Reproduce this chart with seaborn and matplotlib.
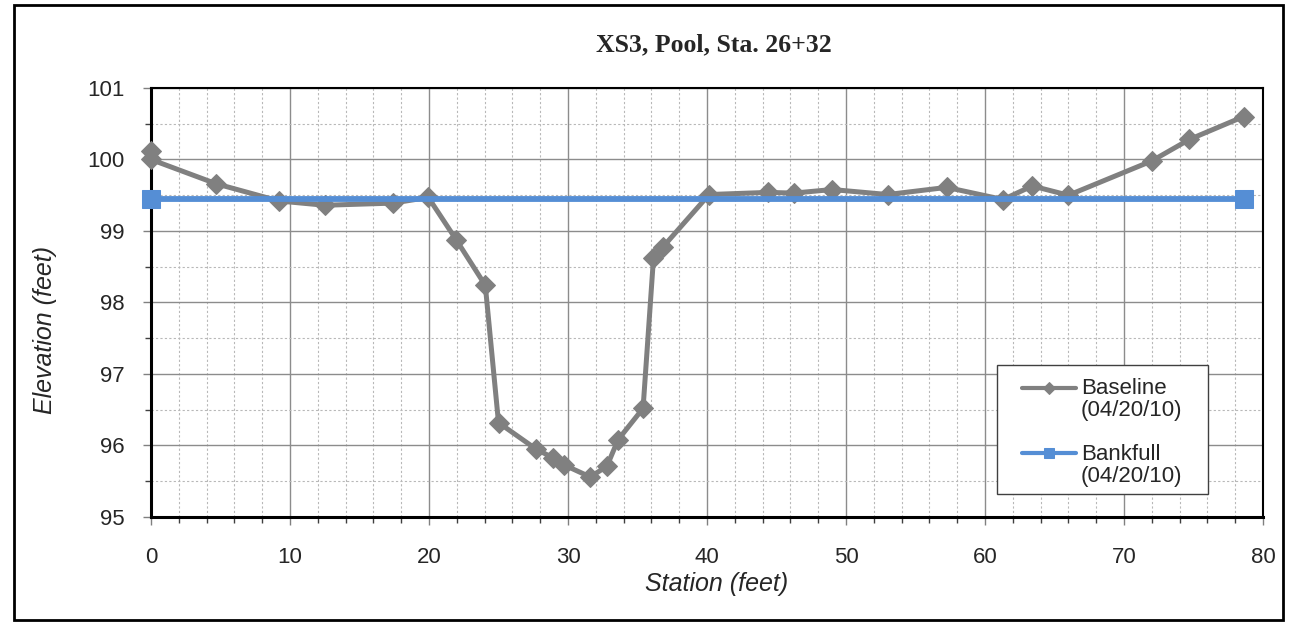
import matplotlib
matplotlib.use("Agg")
import matplotlib.pyplot as plt
from matplotlib.lines import Line2D
from matplotlib.legend_handler import HandlerLine2D
from matplotlib.patches import Rectangle
from matplotlib.ticker import MultipleLocator
import numpy as np
import pandas as pd
import seaborn as sns

# Surveyed cross-section (station, elevation) in feet
baseline_station = [0.0, 0.0, 4.7, 9.2, 12.5, 17.4, 19.95, 21.95, 24.05, 25.0,
                    27.7, 28.9, 29.7, 31.6, 32.8, 33.6, 35.4, 36.15, 36.8,
                    40.15, 44.4, 46.25, 49.0, 53.0, 57.25, 61.3, 63.4, 66.0,
                    72.0, 74.7, 78.6]
baseline_elev = [100.12, 100.0, 99.66, 99.42, 99.36, 99.39, 99.47, 98.88, 98.24, 96.32,
                 95.95, 95.83, 95.73, 95.56, 95.71, 96.08, 96.52, 98.62, 98.77,
                 99.51, 99.54, 99.53, 99.58, 99.51, 99.61, 99.44, 99.63, 99.5,
                 99.98, 100.28, 100.6]

bankfull_station = [0.0, 78.6]
bankfull_elev = [99.45, 99.45]

baseline_label = "Baseline\n(04/20/10)"
bankfull_label = "Bankfull\n(04/20/10)"
title = "XS3, Pool, Sta. 26+32"
x_ticks = [0, 10, 20, 30, 40, 50, 60, 70, 80]
y_ticks = [95, 96, 97, 98, 99, 100, 101]


class FirstLineHandler(HandlerLine2D):
    """Legend line aligned with the first line of a two-line label."""

    def create_artists(self, legend, orig_handle, xdescent, ydescent,
                       width, height, fontsize, trans):
        artists = super().create_artists(legend, orig_handle, xdescent, ydescent,
                                         width, height, fontsize, trans)
        for artist in artists:
            artist.set_ydata(np.asarray(artist.get_ydata()) + 0.54 * fontsize)
        return artists


sns.set_style("white")
plt.rcParams["font.family"] = ["Liberation Sans", "DejaVu Sans"]

W, H = 1296, 624
AX_L, AX_R, AX_T, AX_B = 151, 1263, 88, 517
AW, AH = AX_R - AX_L, AX_B - AX_T

fig = plt.figure(figsize=(W / 100, H / 100), dpi=100)
ax = fig.add_axes([AX_L / W, 1 - AX_B / H, AW / W, AH / H])

base_df = pd.DataFrame({"station": baseline_station, "elev": baseline_elev})
bank_df = pd.DataFrame({"station": bankfull_station, "elev": bankfull_elev})

sns.lineplot(data=base_df, x="station", y="elev", ax=ax, sort=False, estimator=None,
             color="#808080", linewidth=3.6, marker="D", markersize=10.5,
             markeredgecolor="#808080", label=baseline_label, zorder=3, clip_on=False)
sns.lineplot(data=bank_df, x="station", y="elev", ax=ax, sort=False, estimator=None,
             color="#558ED5", linewidth=4.2, marker="s", markersize=13.5,
             markeredgecolor="#558ED5", label=bankfull_label, zorder=4, clip_on=False)

ax.set_xlim(0, 80)
ax.set_ylim(95, 101)
ax.set_xticks(x_ticks)
ax.set_yticks(y_ticks)
ax.xaxis.set_minor_locator(MultipleLocator(2))
ax.yaxis.set_minor_locator(MultipleLocator(0.5))
ax.grid(which="major", color="#8c8c8c", linewidth=1.0, linestyle="-", zorder=0)
ax.grid(which="minor", color="#b8b8b8", linewidth=0.8, linestyle=(0, (2, 2)), zorder=0)
ax.set_axisbelow(True)

ax.tick_params(axis="both", which="major", direction="out", length=5.8, width=1,
               color="#808080", labelsize=16, bottom=True, left=True)
ax.tick_params(axis="x", which="major", pad=16)
ax.tick_params(axis="y", which="major", pad=13)
ax.tick_params(axis="both", which="minor", direction="out", length=4, width=1,
               color="#404040", bottom=True, left=True)

for side, spine in ax.spines.items():
    spine.set_visible(True)
    spine.set_color("black")
    spine.set_linewidth(2.2 if side in ("left", "bottom") else 1.5)

ax.set_xlabel("Station (feet)", fontsize=18, fontstyle="italic")
ax.xaxis.set_label_coords((717 - AX_L) / AW, (AX_B - 572) / AH)
ax.set_ylabel("Elevation (feet)", fontsize=18, fontstyle="italic")
ax.yaxis.set_label_coords((57 - AX_L) / AW, (AX_B - 330) / AH)

ax.set_title(title, fontsize=18.5, fontweight="bold",
             family=["Liberation Serif", "DejaVu Serif"],
             x=(714 - AX_L) / AW, y=(AX_B - 51) / AH, pad=0)

# Legend box drawn behind an unframed legend
ax.add_patch(Rectangle(((997 - AX_L) / AW, (AX_B - 494) / AH),
                       (1208 - 997) / AW, (494 - 365) / AH,
                       transform=ax.transAxes, facecolor="white", edgecolor="#404040",
                       linewidth=1.0, zorder=4.5, clip_on=False))
leg = ax.legend(loc="upper left",
                bbox_to_anchor=((1022 - AX_L) / AW, (AX_B - 378) / AH),
                fontsize=16, frameon=False, handlelength=2.43, handletextpad=0.22,
                labelspacing=1.0, borderpad=0, borderaxespad=0, markerscale=0.58,
                handler_map={Line2D: FirstLineHandler()})
leg.set_zorder(6)
for line in leg.get_lines():
    line.set_linewidth(3.0)
for text in leg.get_texts():
    text.set_linespacing(1.08)

# Outer chart frame
fig.patches.append(Rectangle((14 / W, 1 - 620 / H), (1283 - 14) / W, (620 - 5) / H,
                             transform=fig.transFigure, fill=False,
                             edgecolor="black", linewidth=2.0))

fig.savefig("out.png", dpi=100, facecolor="white")
